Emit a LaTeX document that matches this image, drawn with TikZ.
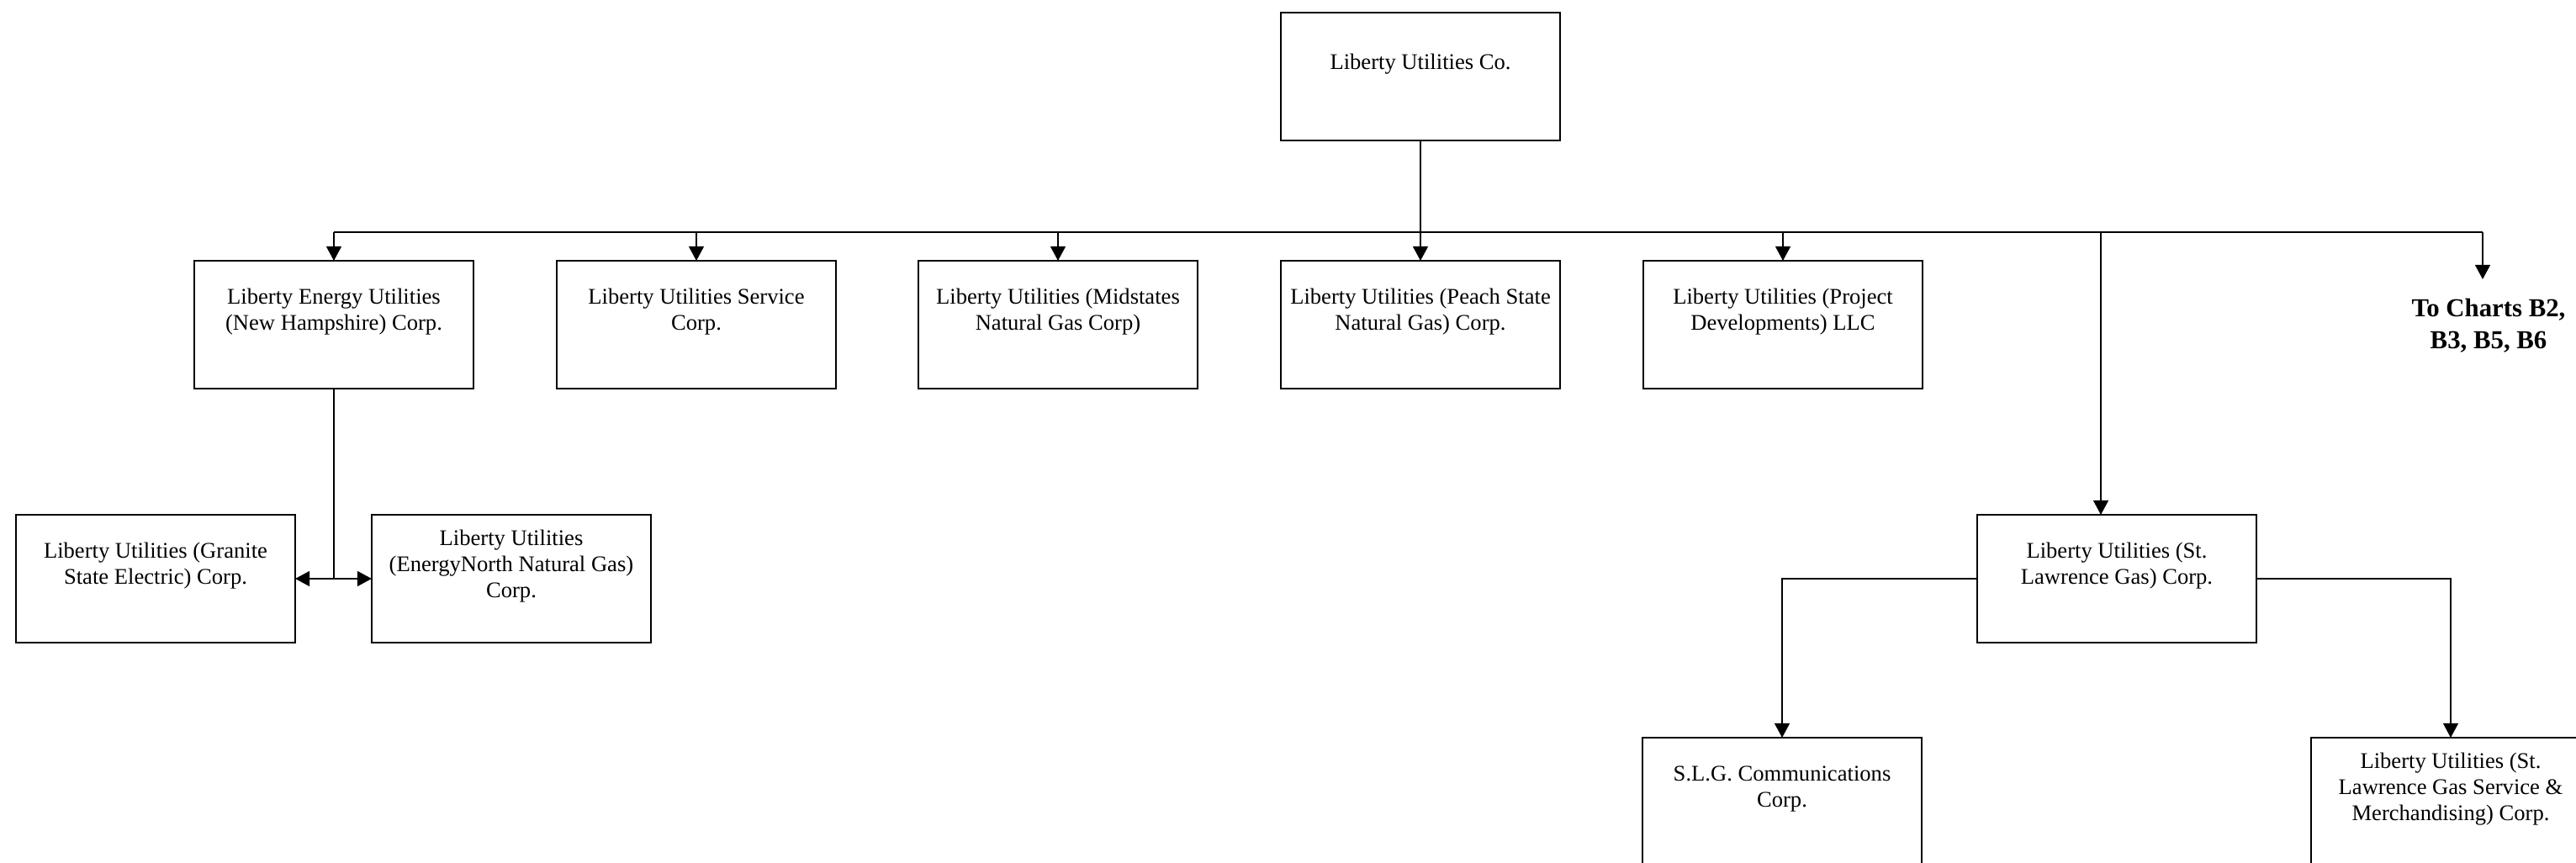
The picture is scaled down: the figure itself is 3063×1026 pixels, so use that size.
\documentclass[tikz,border=0pt]{standalone}
\usepackage{fontspec}
\setmainfont{Liberation Serif}
\usetikzlibrary{arrows.meta,calc}
\begin{document}
\begin{tikzpicture}[x=0.25pt,y=-0.25pt,
  orgbox/.style={draw,line width=0.55pt,minimum width=83pt,minimum height=38pt,inner sep=0pt,outer sep=0pt},
  orgtxt/.style={font=\fontsize{6.65}{7.8}\selectfont,align=center,inner sep=0pt},
  chartstxt/.style={font=\fontsize{7.7}{9.5}\selectfont\bfseries,align=center,inner sep=0pt},
  conn/.style={line width=0.45pt},
  arr/.style={conn,-{Triangle[length=4.3pt,width=4.5pt]}},
  darr/.style={conn,{Triangle[length=4.3pt,width=4.5pt]}-{Triangle[length=4.3pt,width=4.5pt]}}
]
\useasboundingbox (0,0) rectangle (3063,1026);
\clip (0,0) rectangle (3063,1026);
% boxes
\node[orgbox] (co)    at (1689,91)  {};
\node[orgbox] (nh)    at (397,386)  {};
\node[orgbox] (svc)   at (828,386)  {};
\node[orgbox] (mid)   at (1258,386) {};
\node[orgbox] (peach) at (1689,386) {};
\node[orgbox] (proj)  at (2120,386) {};
\node[orgbox] (gse)   at (185,688)  {};
\node[orgbox] (enng)  at (608,688)  {};
\node[orgbox] (stl)   at (2517,688) {};
\node[orgbox] (slg)   at (2119,953) {};
\node[orgbox] (slgsm) at (2914,953) {};
% texts
\node[orgtxt] (cot)    at ($(co.north)+(0,61)$)    {Liberty Utilities Co.};
\node[orgtxt] (nht)    at ($(nh.north)+(0,61)$)    {Liberty Energy Utilities\\(New Hampshire) Corp.};
\node[orgtxt] (svct)   at ($(svc.north)+(0,61)$)   {Liberty Utilities Service\\Corp.};
\node[orgtxt] (midt)   at ($(mid.north)+(0,61)$)   {Liberty Utilities (Midstates\\Natural Gas Corp)};
\node[orgtxt] (peacht) at ($(peach.north)+(0,61)$) {Liberty Utilities (Peach State\\Natural Gas) Corp.};
\node[orgtxt] (projt)  at ($(proj.north)+(0,61)$)  {Liberty Utilities (Project\\Developments) LLC};
\node[orgtxt] (gset)   at ($(gse.north)+(0,61)$)   {Liberty Utilities (Granite\\State Electric) Corp.};
\node[orgtxt] (enngt)  at ($(enng.north)+(0,61)$)  {Liberty Utilities\\(EnergyNorth Natural Gas)\\Corp.};
\node[orgtxt] (stlt)   at ($(stl.north)+(0,61)$)   {Liberty Utilities (St.\\Lawrence Gas) Corp.};
\node[orgtxt] (slgt)   at ($(slg.north)+(0,61)$)   {S.L.G. Communications\\Corp.};
\node[orgtxt] (slgsmt) at ($(slgsm.north)+(0,61)$) {Liberty Utilities (St.\\Lawrence Gas Service \&\\Merchandising) Corp.};
\node[chartstxt] (charts) at (2959,387) {To Charts B2,\\B3, B5, B6};
% bus
\coordinate (busL) at (397,276);
\coordinate (busR) at (2952,276);
\coordinate (chartsarr) at (2952,332);
\coordinate (stlbranch) at (2498,276);
\draw[conn] (co.south) -- (co.south |- busL);
\draw[conn] (busL) -- (busR);
\draw[arr] (busR) -- (chartsarr);
\draw[arr] (nh.north |- busL) -- (nh.north);
\draw[arr] (svc.north |- busL) -- (svc.north);
\draw[arr] (mid.north |- busL) -- (mid.north);
\draw[arr] (peach.north |- busL) -- (peach.north);
\draw[arr] (proj.north |- busL) -- (proj.north);
\draw[arr] (stlbranch) -- (stlbranch |- stl.north);
% NH children
\coordinate (nhj) at (nh.south |- gse.east);
\draw[conn] (nh.south) -- (nhj);
\draw[arr] (nhj) -- (gse.east);
\draw[arr] (nhj) -- (enng.west);
% St. Lawrence children
\draw[arr] (stl.west) -| (slg.north);
\draw[arr] (stl.east) -| (slgsm.north);
\end{tikzpicture}
\end{document}
